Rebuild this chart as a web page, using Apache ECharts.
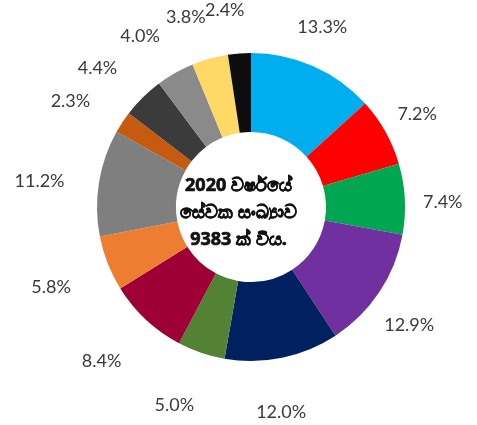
<!DOCTYPE html>
<html>
<head>
<meta charset="utf-8">
<script src="https://cdn.jsdelivr.net/npm/echarts@6/dist/echarts.min.js"></script>
<style>
html,body{margin:0;padding:0;background:#fff;}
#main{width:477px;height:425px;}
</style>
</head>
<body>
<div id="main"></div>
<script>
// share of employees, clockwise from top
var shares = [13.3, 7.2, 7.4, 12.9, 12.0, 5.0, 8.4, 5.8, 11.2, 2.3, 4.4, 4.0, 3.8, 2.4];
var colors = ['#00aeef', '#ff0000', '#00a651', '#7030a0', '#002060', '#548235', '#9e0036',
  '#ed7d31', '#7f7f7f', '#c55a11', '#3b3b3b', '#8a8a8a', '#ffd966', '#0d0d0d'];
var centerLines = ['2020 වර්ෂයේ', 'සේවක සංඛ්\u200Dයාව', '9383 ක් විය.'];

var myChart = echarts.init(document.getElementById('main'));

var pieData = shares.map(function (v, i) {
  return { value: v, name: 'c' + i, itemStyle: { color: colors[i] } };
});
var labelData = shares.map(function (v, i) {
  return { value: v, name: 'c' + i };
});

var option = {
  animation: false,
  graphic: [{
    type: 'text',
    left: 'center',
    top: 'middle',
    x: 12,
    y: -12,
    style: {
      text: centerLines.join('\n'),
      fill: '#111',
      stroke: '#111',
      lineWidth: 0.7,
      font: 'bold 18px "Noto Sans", sans-serif',
      textAlign: 'center',
      lineHeight: 27
    }
  }],
  series: [
    {
      type: 'pie',
      center: [251, 207],
      radius: [75, 154],
      startAngle: 90,
      clockwise: true,
      silent: true,
      label: { show: false },
      labelLine: { show: false },
      data: pieData
    },
    {
      // invisible ring used only to place the percentage labels
      type: 'pie',
      center: [240, 213],
      radius: [178, 222],
      startAngle: 90,
      clockwise: true,
      silent: true,
      avoidLabelOverlap: false,
      labelLayout: { hideOverlap: false },
      itemStyle: { color: 'rgba(0,0,0,0)' },
      label: {
        show: true,
        position: 'inside',
        color: '#3a3a3a',
        fontFamily: 'Lato',
        fontSize: 18,
        formatter: function (p) { return p.value.toFixed(1) + '%'; }
      },
      labelLine: { show: false },
      data: labelData
    }
  ]
};
myChart.setOption(option);
</script>
</body>
</html>
